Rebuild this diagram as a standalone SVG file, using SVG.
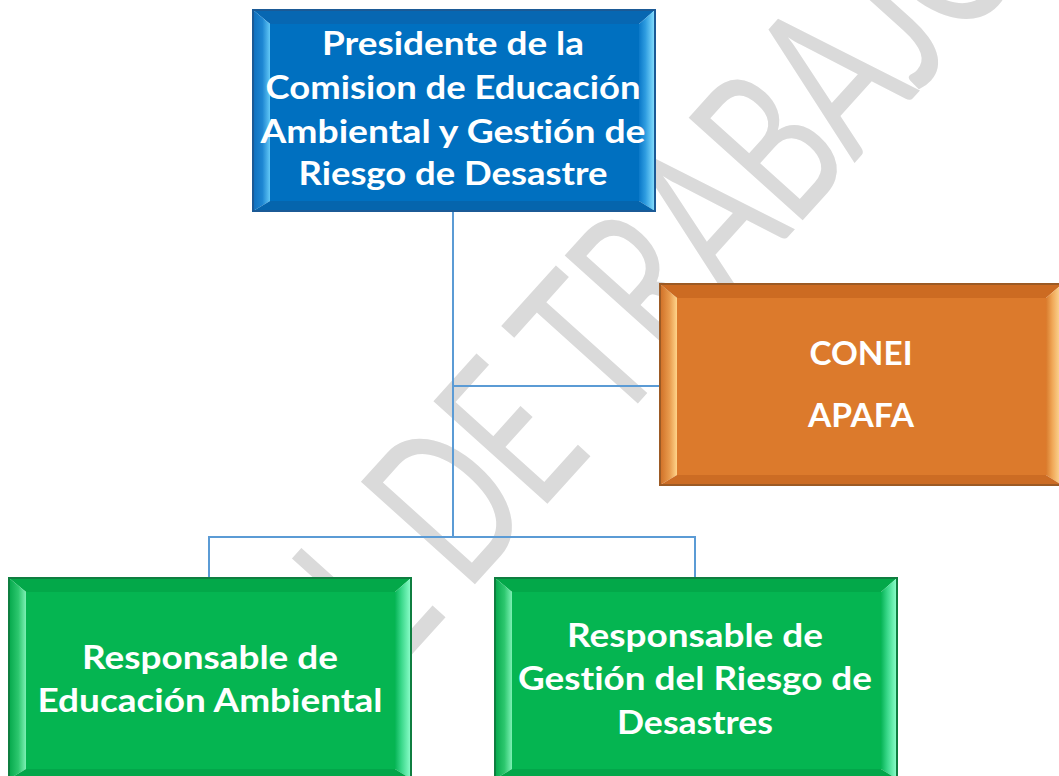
<svg xmlns="http://www.w3.org/2000/svg" width="1059" height="776" viewBox="0 0 1059 776">
<defs>
<linearGradient id="bL" x1="0" y1="0" x2="1" y2="0"><stop offset="0" stop-color="#0f6fbd"/><stop offset="0.55" stop-color="#1d86d2"/><stop offset="1" stop-color="#62c8f6"/></linearGradient>
<linearGradient id="bR" x1="0" y1="0" x2="1" y2="0"><stop offset="0" stop-color="#0a78c8"/><stop offset="0.4" stop-color="#2e9ce0"/><stop offset="1" stop-color="#8ae2ff"/></linearGradient>
<linearGradient id="oL" x1="0" y1="0" x2="1" y2="0"><stop offset="0" stop-color="#cf6f26"/><stop offset="0.55" stop-color="#e89a4c"/><stop offset="1" stop-color="#ffd48a"/></linearGradient>
<linearGradient id="oR" x1="0" y1="0" x2="1" y2="0"><stop offset="0" stop-color="#d97a2c"/><stop offset="0.4" stop-color="#f0a858"/><stop offset="1" stop-color="#ffe0a0"/></linearGradient>
<linearGradient id="gL" x1="0" y1="0" x2="1" y2="0"><stop offset="0" stop-color="#04a84b"/><stop offset="0.55" stop-color="#2cc76e"/><stop offset="1" stop-color="#7cf0b4"/></linearGradient>
<linearGradient id="gR" x1="0" y1="0" x2="1" y2="0"><stop offset="0" stop-color="#06b455"/><stop offset="0.4" stop-color="#3ad88a"/><stop offset="1" stop-color="#8effcc"/></linearGradient>
</defs>
<style>
.wm{font-family:Lato,"Open Sans",sans-serif;font-size:214px;fill:#dadada;stroke:none}
.lbl{font-family:Lato,"Liberation Sans",sans-serif;font-weight:bold;font-size:33px;fill:#ffffff;text-anchor:middle;font-variant-ligatures:none;font-feature-settings:"liga" 0}
.conn{fill:none;stroke:#5b9bd5;stroke-width:2}
.b .face{fill:#0070c0}.b .top{fill:#0767b2}.b .bot{fill:#0565ad}.b .lft{fill:url(#bL)}.b .rgt{fill:url(#bR)}.b .brd{fill:none;stroke:#1b5a96;stroke-width:2}
.o .face{fill:#dc7a2c}.o .top{fill:#cc6b22}.o .bot{fill:#cc6c24}.o .lft{fill:url(#oL)}.o .rgt{fill:url(#oR)}.o .brd{fill:none;stroke:#9c5a24;stroke-width:2}
.g .face{fill:#05b551}.g .top{fill:#03a849}.g .bot{fill:#03a64a}.g .lft{fill:url(#gL)}.g .rgt{fill:url(#gR)}.g .brd{fill:none;stroke:#0f7e40;stroke-width:2}
</style>
<rect width="1059" height="776" fill="#ffffff"/>
<g id="watermark">
<text class="wm" transform="translate(397,671) rotate(-48) scale(0.68,1)" textLength="1405" lengthAdjust="spacing">L DE TRABAJO</text>
</g>
<g id="connectors">
<path class="conn" d="M453,211 V537"/>
<path class="conn" d="M453,386 H660"/>
<path class="conn" d="M209,578 V537 H695 V578"/>
</g>
<g id="presidente" class="b">
<polygon class="top" points="253,10 655,10 639,24 270,24"/>
<polygon class="lft" points="253,10 270,24 270,201 253,211"/>
<polygon class="rgt" points="639,24 655,10 655,211 639,201"/>
<polygon class="bot" points="253,211 270,201 639,201 655,211"/>
<rect class="face" x="270" y="24" width="369" height="177"/>
<rect class="brd" x="253" y="10" width="402" height="201"/>
<text class="lbl" x="453" y="55" textLength="262" lengthAdjust="spacingAndGlyphs">Presidente de la</text>
<text class="lbl" x="453" y="99" textLength="375" lengthAdjust="spacingAndGlyphs">Comision de Educación</text>
<text class="lbl" x="453" y="143" textLength="385" lengthAdjust="spacingAndGlyphs">Ambiental y Gestión de</text>
<text class="lbl" x="453" y="185" textLength="309" lengthAdjust="spacingAndGlyphs">Riesgo de Desastre</text>
</g>
<g id="conei" class="o">
<polygon class="top" points="660,284 1062,284 1046,298 677,298"/>
<polygon class="lft" points="660,284 677,298 677,475 660,485"/>
<polygon class="rgt" points="1046,298 1062,284 1062,485 1046,475"/>
<polygon class="bot" points="660,485 677,475 1046,475 1062,485"/>
<rect class="face" x="677" y="298" width="369" height="177"/>
<rect class="brd" x="660" y="284" width="402" height="201"/>
<text class="lbl" x="861" y="365" textLength="103" lengthAdjust="spacingAndGlyphs">CONEI</text>
<text class="lbl" x="861" y="427" textLength="106" lengthAdjust="spacingAndGlyphs">APAFA</text>
</g>
<g id="educacion" class="g">
<polygon class="top" points="9,578 411,578 395,592 26,592"/>
<polygon class="lft" points="9,578 26,592 26,769 9,779"/>
<polygon class="rgt" points="395,592 411,578 411,779 395,769"/>
<polygon class="bot" points="9,779 26,769 395,769 411,779"/>
<rect class="face" x="26" y="592" width="369" height="177"/>
<rect class="brd" x="9" y="578" width="402" height="201"/>
<text class="lbl" x="210" y="669" textLength="256" lengthAdjust="spacingAndGlyphs">Responsable de</text>
<text class="lbl" x="210" y="712" textLength="345" lengthAdjust="spacingAndGlyphs">Educación Ambiental</text>
</g>
<g id="gestion" class="g">
<polygon class="top" points="495,578 897,578 881,592 512,592"/>
<polygon class="lft" points="495,578 512,592 512,769 495,779"/>
<polygon class="rgt" points="881,592 897,578 897,779 881,769"/>
<polygon class="bot" points="495,779 512,769 881,769 897,779"/>
<rect class="face" x="512" y="592" width="369" height="177"/>
<rect class="brd" x="495" y="578" width="402" height="201"/>
<text class="lbl" x="695" y="647" textLength="256" lengthAdjust="spacingAndGlyphs">Responsable de</text>
<text class="lbl" x="695" y="690" textLength="354" lengthAdjust="spacingAndGlyphs">Gestión del Riesgo de</text>
<text class="lbl" x="695" y="734" textLength="156" lengthAdjust="spacingAndGlyphs">Desastres</text>
</g>
</svg>
